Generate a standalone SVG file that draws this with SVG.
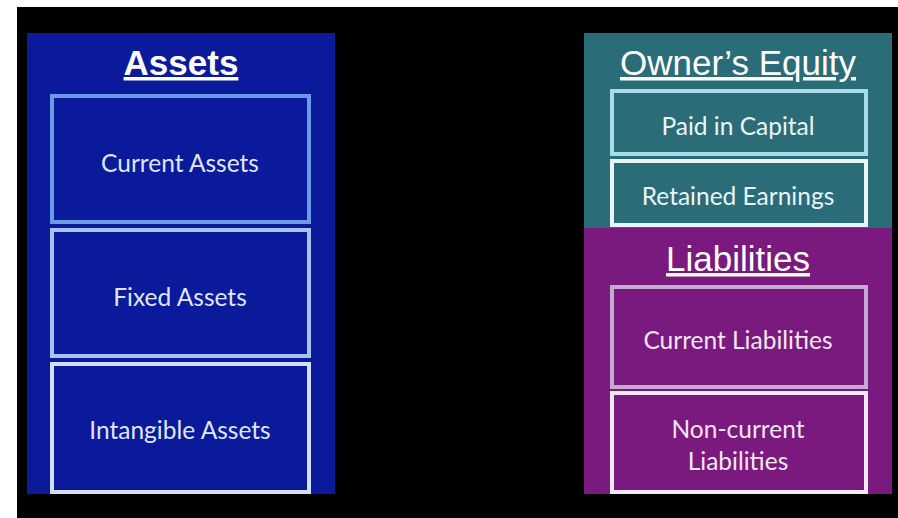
<svg xmlns="http://www.w3.org/2000/svg" width="898" height="518" viewBox="0 0 898 518">
<style>
.title{font-family:"Liberation Sans",Arial,sans-serif;font-size:35px;fill:#ffffff;text-anchor:middle;text-decoration:underline}
.lbl{font-family:Lato,"Noto Sans",sans-serif;font-size:24.5px;text-anchor:middle;dominant-baseline:central}
.b{fill:#0a1a9a}
.t{fill:#2b6c79}
.p{fill:#7a1a7e}
</style>
<rect width="898" height="518" fill="#ffffff"/>
<rect x="17" y="7" width="881" height="511" fill="#000000"/>
<g id="assets">
<rect x="27" y="33" width="308" height="461" class="b"/>
<text x="181" y="75" class="title" font-weight="bold">Assets</text>
</g>
<g id="current-assets">
<rect x="52" y="96" width="257" height="126" class="b" stroke="#6b9ae6" stroke-width="4"/>
<text x="180" y="162" class="lbl" fill="#dfe6ff">Current Assets</text>
</g>
<g id="fixed-assets">
<rect x="52" y="230" width="257" height="126" class="b" stroke="#a6c2f0" stroke-width="4"/>
<text x="180" y="296" class="lbl" fill="#dfe6ff">Fixed Assets</text>
</g>
<g id="intangible-assets">
<rect x="52" y="364" width="257" height="128" class="b" stroke="#d3def8" stroke-width="4"/>
<text x="180" y="429" class="lbl" fill="#dfe6ff">Intangible Assets</text>
</g>
<g id="owners-equity">
<rect x="584" y="33" width="308" height="195" class="t"/>
<text x="738" y="75" class="title">Owner’s Equity</text>
</g>
<g id="paid-in-capital">
<rect x="612" y="91" width="254" height="63" class="t" stroke="#a9dce6" stroke-width="4"/>
<text x="738" y="125" class="lbl" fill="#eaf6f8">Paid in Capital</text>
</g>
<g id="retained-earnings">
<rect x="612" y="161" width="254" height="64" class="t" stroke="#eaf5f7" stroke-width="4"/>
<text x="738" y="195" class="lbl" fill="#eaf6f8">Retained Earnings</text>
</g>
<g id="liabilities">
<rect x="584" y="228" width="308" height="266" class="p"/>
<text x="738" y="271" class="title">Liabilities</text>
</g>
<g id="current-liabilities">
<rect x="612" y="287" width="254" height="100" class="p" stroke="#c4aacf" stroke-width="4"/>
<text x="738" y="339" class="lbl" fill="#f4e6f6">Current Liabilities</text>
</g>
<g id="noncurrent-liabilities">
<rect x="612" y="393" width="254" height="99" class="p" stroke="#f3e8f5" stroke-width="4"/>
<text x="738" y="428" class="lbl" fill="#f4e6f6">Non-current</text>
<text x="738" y="460" class="lbl" fill="#f4e6f6">Liabilities</text>
</g>
<g id="connectors"></g>
</svg>
